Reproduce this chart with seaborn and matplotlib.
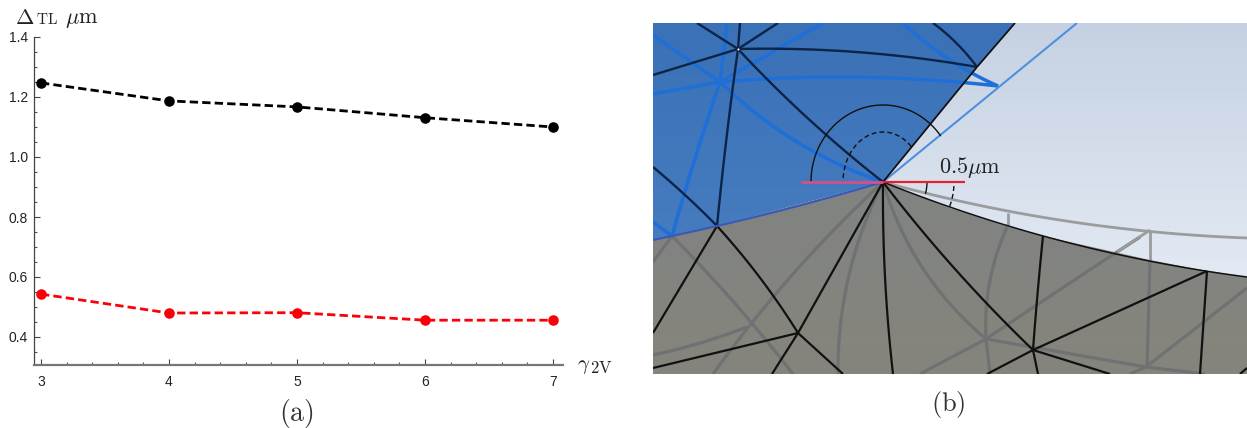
import numpy as np
import pandas as pd
import matplotlib
matplotlib.use('Agg')
import matplotlib.pyplot as plt
import seaborn as sns
from matplotlib.patches import Polygon
from matplotlib.ticker import MultipleLocator

# panel (a) values
gamma = [3, 4, 5, 6, 7]
delta_black = [1.247, 1.187, 1.167, 1.131, 1.100]
delta_red = [0.543, 0.480, 0.481, 0.456, 0.456]
y_ticks = [0.4, 0.6, 0.8, 1.0, 1.2, 1.4]

# panel (b) is a mesh sketch, all points in picture pixels
apex = (883, 182)
blue_region = [(653, 23), (1015, 23), (977, 67), apex, (717, 226), (653, 240)]
grey_region = [(653, 240), (717, 226), apex, (950, 208), (1003, 225), (1043, 236),
               (1150, 260), (1207, 271), (1247, 277), (1247, 374), (653, 374)]

blue_black_lines = [
    [(738, 49), (697, 23)],
    [(738, 49), (778, 23)],
    [(738, 49), (653, 75)],
    [(738, 49), (740, 23)],
    [(738, 49), (732, 98), (725, 148), (717, 226)],
    [(738, 49), (800, 48), (883, 55), (950, 63), (977, 67)],
    [(738, 49), (823, 132), apex],
    [(933, 23), (950, 37), (977, 67)],
    [(653, 167), (685, 195), (717, 226)],
]
blue_lines = [
    [(720, 82), (727, 23)],
    [(720, 82), (678, 215), (672, 236)],
    [(720, 82), (653, 35)],
    [(720, 82), (823, 23)],
    [(720, 82), (653, 94)],
    [(720, 82), (783, 132), (850, 172), apex],
    [(720, 82), (783, 77), (950, 83), (998, 86)],
    [(903, 23), (950, 60), (998, 86)],
    [(672, 236), (653, 222)],
]
light_blue_lines = [[apex, (1077, 23)]]
grey_dark_lines = [
    [apex, (857, 210), (773, 297), (747, 327), (713, 374)],
    [apex, (872, 210), (847, 283), (838, 343), (838, 374)],
    [(747, 327), (700, 343), (653, 355)],
    [(672, 236), (717, 273), (747, 327), (793, 374)],
    [(672, 236), (653, 262)],
    [apex, (893, 210), (917, 260), (950, 303), (986, 339)],
    [(986, 339), (950, 358), (920, 374)],
    [(986, 339), (993, 267), (1008, 225)],
    [(986, 339), (1117, 252), (1140, 237)],
    [(986, 339), (1146, 367)],
    [(986, 339), (990, 374)],
    [(1150, 260), (1147, 367)],
    [(1146, 367), (1247, 288)],
    [(1146, 367), (1205, 374)],
    [(1146, 367), (1130, 374)],
]
grey_light_lines = [
    [apex, (927, 192), (1007, 212), (1150, 230), (1247, 238)],
    [(1008, 213), (1008, 227)],
    [(1150, 230), (1117, 252)],
    [(1150, 230), (1150, 260)],
]
black_lines = [
    [(798, 333), (773, 293), (750, 267), (717, 226)],
    [(798, 333), apex],
    [(798, 333), (653, 368)],
    [(798, 333), (772, 374)],
    [(798, 333), (843, 374)],
    [(717, 226), (653, 333)],
    [apex, (883, 210), (893, 374)],
    [apex, (903, 210), (950, 263), (1033, 350)],
    [(1033, 350), (1037, 300), (1043, 236)],
    [(1033, 350), (1207, 271)],
    [(1033, 350), (987, 374)],
    [(1033, 350), (1038, 374)],
    [(1033, 350), (1110, 374)],
    [(1207, 271), (1200, 374)],
    [(1247, 368), (1240, 374)],
]


def smooth(pts):
    # bend a short point list into one curve, straight if only 2 points
    pts = np.array(pts, dtype=float)
    if len(pts) < 3:
        return pts[:, 0], pts[:, 1]
    t = np.r_[0, np.cumsum(np.hypot(*np.diff(pts, axis=0).T))]
    tt = np.linspace(0, t[-1], 60)
    # degree 2 keeps it from wiggling, then pull the ends back onto the nodes
    x = np.polyval(np.polyfit(t, pts[:, 0], 2), tt)
    y = np.polyval(np.polyfit(t, pts[:, 1], 2), tt)
    w = tt / t[-1]
    x += (1 - w) * (pts[0, 0] - x[0]) + w * (pts[-1, 0] - x[-1])
    y += (1 - w) * (pts[0, 1] - y[0]) + w * (pts[-1, 1] - y[-1])
    return x, y


def draw_lines(ax, lines, color, lw, z):
    for pts in lines:
        x, y = smooth(pts)
        ax.plot(x, y, color=color, lw=lw, zorder=z, solid_capstyle='butt')


def gradient(ax, top, bottom, clip=None, z=1):
    rows = np.linspace(np.array(top), np.array(bottom), 200)[:, None, :] / 255
    im = ax.imshow(rows, extent=(653, 1247, 374, 23), aspect='auto', zorder=z)
    if clip is not None:
        patch = Polygon(clip, closed=True, transform=ax.transData, fc='none', ec='none')
        ax.add_patch(patch)
        im.set_clip_path(patch)


def arc(ax, rx, ry, start, stop, **kw):
    a = np.radians(np.linspace(start, stop, 80))
    ax.plot(apex[0] + rx * np.cos(a), apex[1] - ry * np.sin(a), color='#111111', zorder=6, **kw)


W, H = 1247, 428
sns.set_style('ticks')
plt.rcParams['mathtext.fontset'] = 'cm'
plt.rcParams['font.family'] = ['Liberation Sans', 'DejaVu Sans']

fig = plt.figure(figsize=(W / 100, H / 100), dpi=100)

# panel (a)
ax = fig.add_axes([33.5 / W, 1 - 365 / H, (563 - 33.5) / W, (365 - 37) / H])
df = pd.DataFrame({
    'gamma': gamma * 2,
    'delta': delta_black + delta_red,
    'series': ['black'] * 5 + ['red'] * 5,
})
sns.lineplot(data=df, x='gamma', y='delta', hue='series', palette={'black': '#000000', 'red': '#fb0008'},
             marker='o', markersize=7.6, markeredgewidth=0, linestyle=(0, (3.0, 1.5)), linewidth=2.0,
             legend=False, ax=ax)
ax.set_xlim(3 - 7.5 / 128, 3 + (563 - 41) / 128)
ax.set_ylim(0.4 - 28 / 300, 1.4)
ax.set_xlabel('')
ax.set_ylabel('')
ax.set_xticks(gamma)
ax.set_yticks(y_ticks)
ax.set_yticklabels(['%.1f' % v for v in y_ticks])
ax.xaxis.set_minor_locator(MultipleLocator(0.2))
ax.yaxis.set_minor_locator(MultipleLocator(0.05))
sns.despine(ax=ax)
ax.spines['left'].set_color('#444444')
ax.spines['left'].set_linewidth(0.9)
ax.spines['bottom'].set_color('#777777')
ax.spines['bottom'].set_linewidth(1.6)
ax.tick_params(axis='x', which='major', direction='in', length=4.5, width=0.8, color='#444444',
               labelsize=10, pad=7, labelcolor='#222222')
ax.tick_params(axis='y', which='major', direction='in', length=4.5, width=0.8, color='#444444',
               labelsize=10, pad=4, labelcolor='#222222')
ax.tick_params(axis='both', which='minor', direction='in', length=2.5, width=0.8, color='#555555')

serif = dict(color='#222222', ha='left', va='center')
fig.text(15 / W, 1 - 19 / H, r'$\Delta$', fontsize=16, **serif)
fig.text(36 / W, 1 - 20 / H, r'$\mathrm{TL}$', fontsize=11, **serif)
fig.text(65 / W, 1 - 20 / H, r'$\mu\mathrm{m}$', fontsize=16, **serif)
fig.text(577 / W, 1 - 367 / H, r'$\gamma$', fontsize=15, **serif)
fig.text(590 / W, 1 - 368 / H, r'$\mathrm{2V}$', fontsize=12, **serif)
fig.text(296 / W, 1 - 413 / H, r'$\mathrm{(a)}$', fontsize=20, color='#333333', ha='center', va='center')
fig.text(948 / W, 1 - 405 / H, r'$\mathrm{(b)}$', fontsize=19, color='#333333', ha='center', va='center')

# panel (b)
bx = fig.add_axes([653 / W, 1 - 374 / H, (W - 653) / W, (374 - 23) / H])
gradient(bx, (197, 209, 226), (238, 243, 250))
gradient(bx, (58, 113, 183), (78, 130, 196), clip=blue_region, z=2)
gradient(bx, (124, 130, 136), (134, 133, 124), clip=grey_region, z=2)

draw_lines(bx, blue_lines, '#1f6fd8', 2.5, 3)
draw_lines(bx, light_blue_lines, '#4f8fdf', 1.5, 3)
draw_lines(bx, grey_dark_lines, '#6f7273', 2.3, 3)
draw_lines(bx, grey_light_lines, '#9a9c9e', 2.0, 3)
draw_lines(bx, blue_black_lines, '#0c2445', 1.7, 4)
draw_lines(bx, black_lines, '#111111', 1.6, 4)

# region outlines
draw_lines(bx, [[(653, 240), (717, 226), apex]], '#3a58b8', 1.5, 5)
draw_lines(bx, [[apex, (950, 208), (1003, 225), (1043, 236), (1150, 260), (1207, 271), (1247, 277)]],
           '#111111', 1.1, 5)
draw_lines(bx, [[(1015, 23), (977, 67)], [(977, 67), apex]], '#111111', 1.3, 5)

# angle markers and scale bar
arc(bx, 72, 77, 37, 180, lw=1.0)
arc(bx, 40, 50, 45, 180, lw=1.0, linestyle=(0, (3.5, 2.2)))
arc(bx, 44, 44, -15, 0, lw=1.0)
arc(bx, 71, 71, -20, 0, lw=1.0, linestyle=(0, (3.5, 2.2)))
bx.plot([801, apex[0]], [apex[1], apex[1]], color='#d4508a', lw=2, zorder=7, solid_capstyle='butt')
bx.plot([apex[0], 965], [apex[1], apex[1]], color='#e8202c', lw=1.6, zorder=7, solid_capstyle='butt')
bx.text(939, 168, r'$0.5\mu\mathrm{m}$', fontsize=16, color='#222222', ha='left', va='center', zorder=8)
bx.plot([738], [49], marker='o', ms=1.5, color='white', mew=0, zorder=8)

bx.set_xlim(653, 1247)
bx.set_ylim(374, 23)
bx.axis('off')

fig.savefig('out.png', dpi=100)
